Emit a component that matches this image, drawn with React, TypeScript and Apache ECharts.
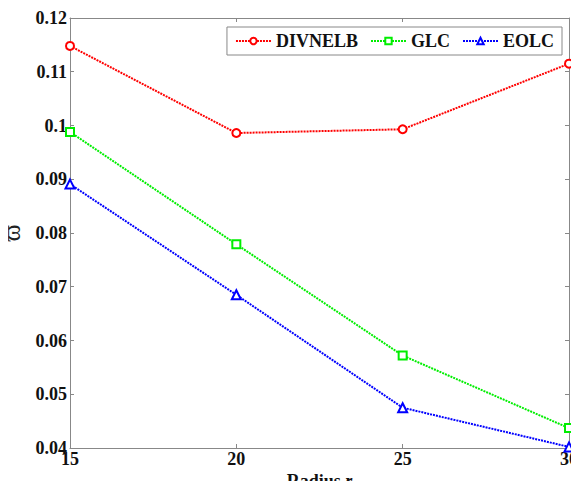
import React, { useEffect, useRef } from "react";
import * as echarts from "echarts";

const radius = [15, 20, 25, 30];
const divnelb = [0.1148, 0.0986, 0.0993, 0.1115];
const glc = [0.0988, 0.0779, 0.0572, 0.0437];
const eolc = [0.0891, 0.0685, 0.0475, 0.0402];
const seriesNames = ["DIVNELB", "GLC", "EOLC"];

const FONT = "Liberation Serif, Times New Roman, Times, serif";

export default function App() {
  const ref = useRef<HTMLDivElement>(null);
  useEffect(() => {
    if (!ref.current) return;
    const chart = echarts.init(ref.current, undefined, { renderer: "svg" });
    const mk = (name: string, data: number[], color: string, symbol: string) => ({
      name,
      type: "line",
      data: radius.map((r, i) => [r, data[i]]),
      symbol,
      symbolSize: symbol === "triangle" ? 9 : 8,
      showSymbol: true,
      itemStyle: { color: "#fff", borderColor: color, borderWidth: 2 },
      lineStyle: { color, width: 2, type: [2, 1] },
      emphasis: { disabled: true },
    });
    const labelStyle = { fontFamily: FONT, fontWeight: "bold", fontSize: 18, color: "#111" };
    chart.setOption({
      animation: false,
      backgroundColor: "#fff",
      textStyle: { fontFamily: FONT },
      grid: { left: 70, right: 10, top: 18, bottom: 41, outerBoundsMode: "none", containLabel: false },
      legend: {
        data: seriesNames,
        right: 17,
        top: 27,
        orient: "horizontal",
        itemWidth: 35,
        itemHeight: 8,
        itemGap: 12,
        padding: [5, 8, 5, 8],
        borderColor: "#888",
        borderWidth: 1,
        backgroundColor: "#fff",
        textStyle: { ...labelStyle },
      },
      xAxis: [
        {
          type: "value",
          min: 15,
          max: 30,
          interval: 5,
          name: "Radius {i|r}",
          nameLocation: "middle",
          nameGap: 24,
          nameMoveOverlap: false,
          nameTextStyle: {
            ...labelStyle,
            rich: { i: { ...labelStyle, fontStyle: "italic" } },
          },
          axisLine: { show: true, lineStyle: { color: "#888", width: 1 } },
          axisTick: { show: true, inside: true, length: 4, lineStyle: { color: "#888" } },
          axisLabel: { ...labelStyle, margin: 2 },
          splitLine: { show: false },
        },
        {
          type: "value",
          position: "top",
          min: 15,
          max: 30,
          interval: 5,
          axisLine: { show: true, lineStyle: { color: "#888", width: 1 } },
          axisTick: { show: true, inside: true, length: 4, lineStyle: { color: "#888" } },
          axisLabel: { show: false },
          splitLine: { show: false },
        },
      ],
      yAxis: [
        {
          type: "value",
          min: 0.04,
          max: 0.12,
          interval: 0.01,
          name: "ϖ",
          nameLocation: "middle",
          nameRotate: 90,
          nameGap: 46,
          nameTextStyle: { fontFamily: "Liberation Serif, DejaVu Serif, serif", fontSize: 26, color: "#222" },
          axisLine: { show: true, lineStyle: { color: "#888", width: 1 } },
          axisTick: { show: true, inside: true, length: 4, lineStyle: { color: "#888" } },
          axisLabel: {
            ...labelStyle,
            margin: 3,
            formatter: (v: number) => String(parseFloat(v.toFixed(2))),
          },
          splitLine: { show: false },
        },
        {
          type: "value",
          position: "right",
          min: 0.04,
          max: 0.12,
          interval: 0.01,
          axisLine: { show: true, lineStyle: { color: "#888", width: 1 } },
          axisTick: { show: true, inside: true, length: 4, lineStyle: { color: "#888" } },
          axisLabel: { show: false },
          splitLine: { show: false },
        },
      ],
      series: [
        mk("DIVNELB", divnelb, "#ff0000", "circle"),
        mk("GLC", glc, "#00ee00", "rect"),
        mk("EOLC", eolc, "#0000ff", "triangle"),
      ],
    });
    return () => chart.dispose();
  }, []);
  return <div ref={ref} style={{ width: 579, height: 489, margin: -8 }} />;
}
